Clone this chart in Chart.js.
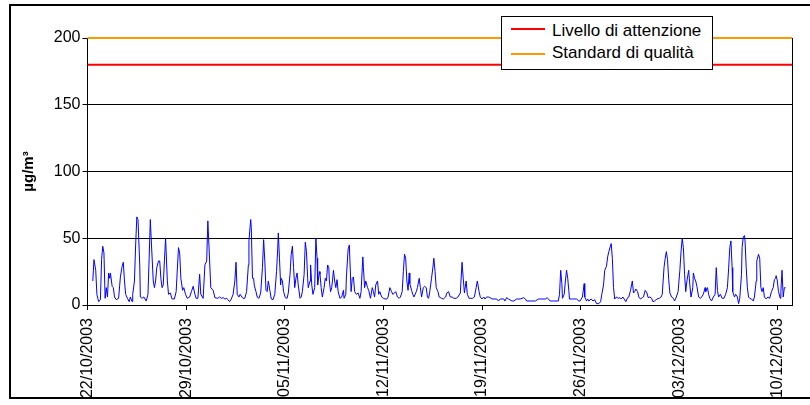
<!DOCTYPE html>
<html>
<head>
<meta charset="utf-8">
<script src="https://cdn.jsdelivr.net/npm/chart.js@4.4.0/dist/chart.umd.min.js"></script>
<style>
  body { margin: 0; background: #fff; }
  #wrap { position: relative; width: 810px; height: 405px; }
  #legend { position: absolute; left: 501px; top: 16px; width: 210px; height: 52px; border: 1px solid #000; background: #fff; }
  .swatch { position: absolute; width: 34px; height: 2px; }
  .lbl { position: absolute; white-space: nowrap; line-height: 20px; font: 17px "Liberation Sans", Arial, sans-serif; color: #000; }
</style>
</head>
<body>
<div id="wrap">
  <canvas id="chart" width="810" height="405"></canvas>
  <div id="legend"></div>
  <div class="swatch" style="left:511px; top:28px; background:#ff0000"></div>
  <div class="lbl" style="left:552px; top:21px">Livello di attenzione</div>
  <div class="swatch" style="left:511px; top:53px; background:#ff9900"></div>
  <div class="lbl" style="left:552px; top:43px">Standard di qualità</div>
</div>
<script>
// Hourly values, hours counted from 22/10/2003 00:00
const hours = [
  9, 11, 14, 16, 19, 22, 24, 26, 28, 30, 32, 34, 36, 38, 39, 42, 44, 46, 49, 53,
  56, 59, 61, 63, 65, 68, 71, 73, 76, 77, 80, 82, 84, 86, 89, 90, 93, 96, 100, 103,
  105, 107, 109, 112, 114, 116, 118, 121, 123, 125, 127, 129, 131, 133, 134, 136, 138, 141, 144, 148,
  151, 155, 157, 159, 162, 164, 167, 170, 174, 177, 180, 183, 185, 188, 191, 193, 197, 200, 203, 205,
  208, 210,
  214, 217, 222, 225, 228, 231, 234, 237, 239, 242, 245, 248, 251, 253, 255, 258, 260, 263, 265, 268,
  271, 274, 275, 278, 279, 281, 283, 284, 287, 289, 292, 295, 298, 300, 302, 304, 306, 308, 311, 313,
  316, 319, 322, 324, 325, 327, 329, 330, 332, 334, 337, 340, 342, 345, 347, 349, 351, 353, 355, 357,
  359, 362, 364, 366, 369, 371, 373, 375, 376, 379, 380, 382, 384, 387, 389, 391, 392, 395, 396, 398,
  400, 403, 405, 407, 409, 411, 412, 414, 416, 419, 421, 423, 425, 427, 430, 433, 436, 437, 440, 441,
  444, 446,
  449, 451, 453, 455, 458, 461, 464, 466, 469, 470, 472, 474, 477, 479, 482, 485, 487, 489, 491, 494,
  496, 498, 501, 504, 507, 510, 512, 515, 518, 520, 523, 525, 528, 531, 533, 536, 538, 540, 542, 544,
  546, 548, 549, 552, 554, 556, 560, 562, 565, 567, 569, 572, 574, 577, 579, 581, 583, 586, 588, 590,
  592, 594, 597, 599, 603, 606, 610, 612, 615, 618, 621, 624, 628, 631, 635, 638, 640, 642, 645, 647,
  650, 653, 656, 659, 662, 664, 667, 669,
  672, 675, 677, 680, 683, 686, 689, 697, 700, 703, 709, 711, 714, 717, 723, 726, 731, 737, 743, 746,
  748, 754, 763, 768, 774, 780, 783, 785, 788, 794, 802, 804, 806, 808, 809, 812, 814, 816, 818, 820,
  821, 824, 828, 833, 837, 839, 843, 846, 847, 850, 852, 854, 858, 861, 864, 867, 871, 874, 876, 879,
  881, 884, 886, 888,
  892, 894, 896, 898, 901, 904, 907, 909, 912, 914, 917, 920, 922, 925, 928, 930, 932, 934, 937, 939,
  942, 945, 947, 950, 953, 955, 958, 961, 963, 966, 970, 974, 977, 979, 982, 984, 986, 988, 990, 992,
  995, 998, 1000, 1003, 1006, 1009, 1011, 1013, 1015, 1017, 1019, 1021, 1024, 1026, 1028, 1031, 1032, 1034, 1036, 1038,
  1041, 1044, 1046, 1049, 1052, 1053, 1056, 1058, 1060, 1063, 1066, 1069, 1071, 1073, 1075, 1078, 1081, 1084, 1087, 1090,
  1092, 1094, 1096, 1098, 1099, 1102, 1104, 1107, 1109, 1111, 1114, 1115, 1117, 1119, 1120, 1122, 1124, 1126, 1128, 1131,
  1134, 1136, 1139, 1140, 1143, 1145, 1147, 1149, 1151, 1153, 1156, 1159, 1162, 1165, 1168, 1170, 1172, 1173, 1175, 1177,
  1180, 1181, 1183, 1185, 1187, 1189
];
const ozone = [
  18, 34, 26, 8, 2.5, 4, 34, 44, 39, 5, 13, 6, 24, 20, 24, 14, 13, 6, 4, 5,
  21, 29, 32, 18, 8, 5, 2.5, 6, 2.5, 8, 18, 45, 66, 64, 30, 6, 5, 6, 3, 8,
  35, 64, 45, 18, 13, 18, 28, 33, 33, 20, 13, 15, 33, 50, 40, 18, 8, 9, 4.5, 4.5,
  10, 43, 39, 20, 11, 13, 8, 5, 6, 10, 14, 8, 5, 5, 23, 8, 5, 30, 33, 63,
  33, 13,
  11, 5.5, 5, 6, 5, 5.5, 4.5, 5, 4, 2.5, 4.5, 8, 18, 32, 8, 6, 8, 6, 5, 5,
  10, 30, 48, 64, 58, 20, 20, 15, 10, 6, 5, 9, 28, 49, 33, 11, 10, 18, 10, 4.5,
  4, 8, 25, 42, 54, 35, 15, 20, 18, 10, 5.5, 5, 9, 23, 38, 44, 28, 13, 20, 24,
  15, 5, 6, 10, 23, 47, 40, 20, 13, 18, 30, 15, 8, 13, 50, 35, 15, 25, 23, 13,
  6, 13, 20, 18, 30, 28, 18, 10, 13, 26, 18, 13, 19, 10, 5, 6, 11, 5, 8, 21,
  42, 45,
  10, 20, 21, 10, 8, 9, 5, 10, 36, 28, 13, 18, 13, 11, 5, 13, 10, 6, 15, 18,
  8, 10, 6, 5, 4.5, 4.5, 6, 13, 10, 8, 9, 10, 6, 5, 6, 10, 25, 38, 35, 18,
  11, 24, 16, 11, 8, 6, 10, 13, 20, 13, 6, 13, 14, 13, 6, 5, 10, 20, 27, 35,
  25, 13, 10, 6, 5, 4.5, 6, 9, 10, 6, 6, 5, 5, 6, 9, 32, 20, 9, 18, 8,
  5, 5, 5, 6, 13, 18, 10, 6,
  4.5, 6, 4.5, 6, 6, 5.5, 4.5, 4.5, 3, 4.5, 4.5, 3, 5.5, 4.5, 3, 3, 4.5, 4.5, 5.5, 4.5,
  3, 3, 3, 4.5, 4.5, 4.5, 5.5, 4.5, 3, 3, 3, 8, 26, 16, 5, 8, 18, 26, 20, 10,
  4.5, 4.5, 4.5, 4.5, 3, 3, 6, 16, 6, 3, 4.5, 3, 4.5, 3, 4, 1, 1, 2.5, 8, 15,
  26, 29, 36, 40,
  46, 35, 13, 4.5, 6, 5, 5.5, 4.5, 6, 4.5, 2.5, 5.5, 6, 11, 18, 9, 10, 12, 10, 6,
  4.5, 5.5, 6, 11, 9, 5.5, 6, 5, 2.5, 3, 4.5, 5, 6, 8, 28, 35, 40, 34, 19, 9,
  6, 5, 3, 6, 10, 26, 40, 50, 43, 23, 10, 18, 26, 15, 6, 13, 24, 20, 18, 14,
  6, 5, 6, 8, 13, 10, 13, 8, 5, 3, 6, 8, 28, 11, 6, 8, 5, 5, 8, 13,
  27, 43, 48, 28, 10, 6, 8, 6, 1, 5, 23, 43, 51, 52, 48, 28, 13, 6, 5, 4.5,
  3, 6, 18, 33, 38, 35, 13, 10, 13, 6, 4.5, 6, 5, 10, 13, 19, 20, 22, 18, 10,
  5, 10, 26, 6, 13, 13
];

// Threshold lines
const attenzione = 180;
const standard = 200;

// Axis setup
const totalHours = 1200;
const tickHours = [0, 168, 336, 504, 672, 840, 1008, 1176];
const tickLabels = ['22/10/2003', '29/10/2003', '05/11/2003', '12/11/2003', '19/11/2003', '26/11/2003', '03/12/2003', '10/12/2003'];
const yTicks = [0, 50, 100, 150, 200];

const FONT = '"Liberation Sans", Arial, sans-serif';

const points = hours.map((h, i) => ({ x: h, y: ozone[i] }));

// Outer frame and right border of the plot area
const framePlugin = {
  id: 'frame',
  afterDraw(chart) {
    const ctx = chart.ctx;
    const area = chart.chartArea;
    ctx.save();
    ctx.strokeStyle = '#000';
    ctx.lineWidth = 1;
    ctx.beginPath();
    ctx.moveTo(Math.round(area.right) + 0.5, area.top);
    ctx.lineTo(Math.round(area.right) + 0.5, area.bottom);
    ctx.stroke();
    ctx.lineWidth = 2;
    ctx.strokeRect(10, 5, 820, 393);
    ctx.restore();
  }
};

new Chart(document.getElementById('chart'), {
  type: 'line',
  data: {
    datasets: [
      {
        label: 'O3',
        data: points,
        borderColor: '#0000ff',
        borderWidth: 1,
        pointRadius: 0,
        tension: 0
      },
      {
        label: 'Livello di attenzione',
        data: [{ x: 0, y: attenzione }, { x: totalHours, y: attenzione }],
        borderColor: '#ff0000',
        borderWidth: 2,
        pointRadius: 0,
        clip: 4
      },
      {
        label: 'Standard di qualità',
        data: [{ x: 0, y: standard }, { x: totalHours, y: standard }],
        borderColor: '#ff9900',
        borderWidth: 2,
        pointRadius: 0,
        clip: 4
      }
    ]
  },
  options: {
    responsive: false,
    animation: false,
    layout: { padding: { left: 10, top: 38, right: 18, bottom: 0 } },
    plugins: {
      legend: { display: false },
      tooltip: { enabled: false }
    },
    scales: {
      x: {
        type: 'linear',
        min: 0,
        max: totalHours,
        afterBuildTicks: (scale) => {
          scale.ticks = tickHours.map(v => ({ value: v }));
        },
        afterFit: (scale) => { scale.height = 100; },
        ticks: {
          minRotation: 90,
          maxRotation: 90,
          padding: 8,
          color: '#000',
          font: { family: FONT, size: 16 },
          callback: (value) => {
            const i = tickHours.indexOf(value);
            return i >= 0 ? tickLabels[i] : '';
          }
        },
        grid: { drawOnChartArea: false, color: '#000', tickLength: 5 },
        border: { color: '#000', width: 1 }
      },
      y: {
        min: 0,
        max: 200,
        afterBuildTicks: (scale) => {
          scale.ticks = yTicks.map(v => ({ value: v }));
        },
        afterFit: (scale) => { scale.width = 77.5; },
        ticks: {
          padding: 2,
          color: '#000',
          font: { family: FONT, size: 16 }
        },
        grid: { color: '#000', tickLength: 5 },
        border: { color: '#000', width: 1 },
        title: {
          display: true,
          text: 'µg/m³',
          color: '#000',
          font: { family: FONT, size: 15, weight: 'bold' },
          padding: { top: 10, bottom: 0 }
        }
      }
    }
  },
  plugins: [framePlugin]
});
</script>
</body>
</html>
